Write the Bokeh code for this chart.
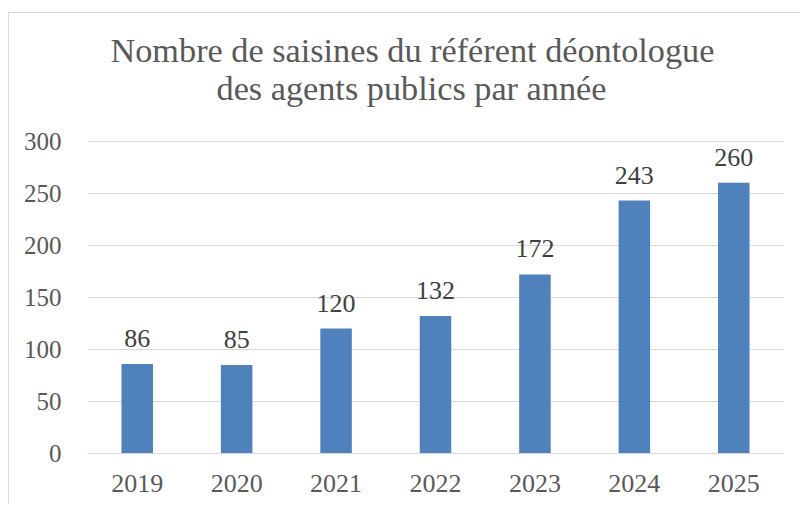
from bokeh.plotting import figure
from bokeh.models import FactorRange, Range1d, FixedTicker, ColumnDataSource, LabelSet, Title
from bokeh.embed import file_html
from bokeh.resources import INLINE

years = ["2019", "2020", "2021", "2022", "2023", "2024", "2025"]
counts = [86, 85, 120, 132, 172, 243, 260]
y_ticks = [0, 50, 100, 150, 200, 250, 300]
title_line1 = "Nombre de saisines du référent déontologue"
title_line2 = "des agents publics par année"

FONT = "Liberation Serif"

src = ColumnDataSource(dict(year=years, count=counts, label=[str(c) for c in counts]))

p = figure(width=792, height=492, output_backend="svg", toolbar_location=None,
           x_range=FactorRange(factors=years, range_padding=0),
           y_range=Range1d(0, 300.7),
           min_border_left=78, min_border_right=18, min_border_top=127, min_border_bottom=52)
p.margin = (12, 0, 0, 8)
p.styles = {"border-top": "1px solid #d9d9d9", "border-left": "1px solid #d9d9d9"}
p.outline_line_color = None
p.background_fill_color = "white"
p.border_fill_color = "white"

p.vbar(x="year", top="count", width=0.317, source=src, fill_color="#4f81bd", line_color=None)

labels = LabelSet(x="year", y="count", text="label", source=src, y_offset=17,
                  text_align="center", text_baseline="alphabetic",
                  text_font=FONT, text_font_size="26px", text_color="#404040")
p.add_layout(labels)

def style_title(t, offset, standoff):
    t.align = "left"
    t.offset = offset
    t.standoff = standoff
    t.text_font = FONT
    t.text_font_size = "34.25px"
    t.text_font_style = "normal"
    t.text_color = "#595959"

p.title.text = title_line1
style_title(p.title, 23, -72)
t2 = Title(text=title_line2)
style_title(t2, 129, 68)
p.add_layout(t2, "above")

p.xgrid.grid_line_color = None
p.ygrid.grid_line_color = "#d9d9d9"
p.ygrid.grid_line_width = 1
p.yaxis.ticker = FixedTicker(ticks=y_ticks)

for ax in (p.xaxis, p.yaxis):
    ax.major_tick_line_color = None
    ax.minor_tick_line_color = None
    ax.major_label_text_font = FONT
    ax.major_label_text_color = "#595959"
p.yaxis.axis_line_color = None
p.xaxis.axis_line_color = "#d9d9d9"
p.yaxis.major_label_text_font_size = "25px"
p.xaxis.major_label_text_font_size = "26px"
p.yaxis.major_label_standoff = 20
p.xaxis.major_label_standoff = 15

open("out.html", "w").write(file_html(p, INLINE))
